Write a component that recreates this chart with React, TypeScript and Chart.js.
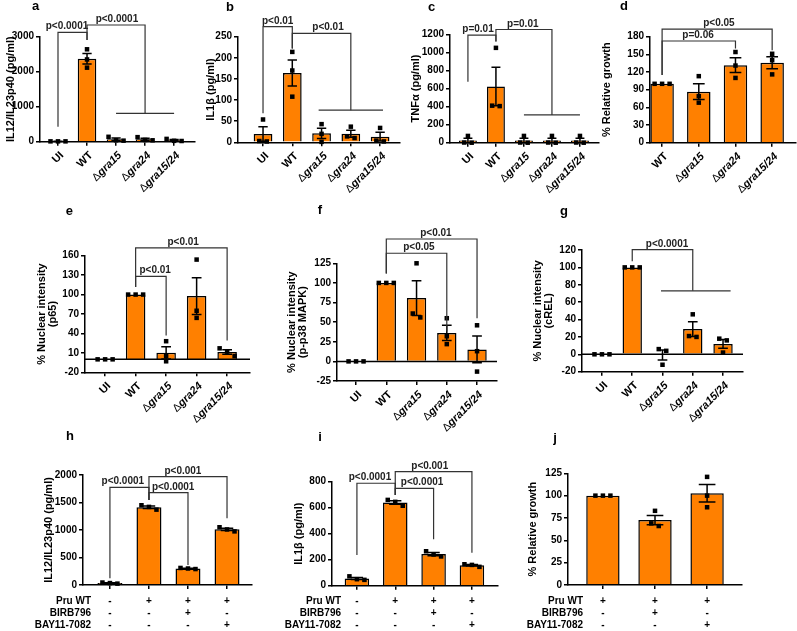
import React, { useEffect, useRef } from 'react';
import { Chart, registerables } from 'chart.js';

Chart.register(...registerables);

const FONT = "'Liberation Sans', Arial, Helvetica, sans-serif";
Chart.defaults.font.family = FONT;
const ORANGE = '#ff8000';
const PAGE_W = 797;
const PAGE_H = 631;

// ---------------- categories & row labels ----------------
const mutantCats = ['UI', 'WT', 'Δgra15', 'Δgra24', 'Δgra15/24'];
const growthCats = ['WT', 'Δgra15', 'Δgra24', 'Δgra15/24'];
const inhibCats = ['Uninfected', 'Pru WT', 'Pru WT + BIRB796', 'Pru WT + BAY11-7082'];
const growthInhibCats = ['Pru WT', 'Pru WT + BIRB796', 'Pru WT + BAY11-7082'];
const rowLabels = ['Pru WT', 'BIRB796', 'BAY11-7082'];
const inhibSigns = [['-', '+', '+', '+'], ['-', '-', '+', '-'], ['-', '-', '-', '+']];
const growthInhibSigns = [['+', '+', '+'], ['-', '+', '-'], ['-', '-', '+']];

// ---------------- panel a : IL12/IL23p40 ----------------
const aMeans = [10, 2370, 70, 73, 42];
const aSem = [3, 150, 35, 28, 19];
const aPoints = [[10, 10, 10], [2640, 2350, 2115], [140, 40, 30], [130, 50, 40], [80, 25, 20]];
const aTicks = [0, 1000, 2000, 3000];
const aBrackets = [
  { x1: 0, x2: 1, y: 3126, leg1: 430, leg2: 2905, text: 'p<0.0001', tx: 0.31 },
  { x1: 1, x2: 3, y: 3334, leg1: 2905, leg2: 810, text: 'p<0.0001', tx: 2.03 },
];
const aGroupLines = [{ from: 2, to: 4, y: 810 }];

// ---------------- panel b : IL1b ----------------
const bMeans = [19.7, 164, 21.3, 20.3, 13.3];
const bSem = [17, 31, 12.2, 8.4, 10.3];
const bPoints = [[54, 3, 2], [214, 170, 108], [43, 20, 1], [37, 14, 10], [34, 4, 2]];
const bTicks = [0, 50, 100, 150, 200, 250];
const bBrackets = [
  { x1: 0, x2: 1, y: 274, leg1: 69, leg2: 222, text: 'p<0.01', tx: 0.5 },
  { x1: 1, x2: 3, y: 258, leg1: 222, leg2: 76, text: 'p<0.01', tx: 2.22 },
];
const bGroupLines = [{ from: 1.9, to: 4.1, y: 76 }];

// ---------------- panel c : TNFa ----------------
const cMeans = [25, 622, 25, 25, 25];
const cSem = [25, 214, 25, 25, 25];
const cPoints = [[75, 2, 0], [1050, 410, 405], [75, 2, 0], [75, 2, 0], [75, 2, 0]];
const cTicks = [0, 200, 400, 600, 800, 1000, 1200];
const cBrackets = [
  { x1: 0, x2: 1, y: 1190, leg1: 676, leg2: 1119, text: 'p=0.01', tx: 0.36 },
  { x1: 1, x2: 3, y: 1253, leg1: 1119, leg2: 307, text: 'p=0.01', tx: 1.96 },
];
const cGroupLines = [{ from: 2, to: 4, y: 307 }];

// ---------------- panel d : relative growth ----------------
const dMeans = [100, 86.7, 131.7, 135.7];
const dSem = [0, 13.5, 12.6, 10.3];
const dPoints = [[100, 100, 100], [113, 79, 68], [154, 131, 110], [151, 140, 116]];
const dTicks = [0, 30, 60, 90, 120, 150, 180];
const dBrackets = [
  { x1: 0, x2: 2, y: 172.7, leg1: 115, leg2: 160, text: 'p=0.06', tx: 0.98 },
  { x1: 0, x2: 3, y: 193, leg1: 115, leg2: 157, text: 'p<0.05', tx: 1.55 },
];

// ---------------- panel e : p65 ----------------
const eMeans = [0, 100, 10, 97.7, 11.3];
const eSem = [0, 0, 9.3, 28.3, 3.5];
const ePoints = [[0, 0, 0], [100, 100, 100], [28, 5, -3], [154, 75, 64], [17, 12, 5]];
const eTicks = [-20, 10, 40, 70, 100, 130, 160];
const eBrackets = [
  { x1: 1, x2: 2, y: 128, leg1: 111.6, leg2: 37, text: 'p<0.01', tx: 1.64 },
  { x1: 1, x2: 4, y: 172, leg1: 111.6, leg2: 29, text: 'p<0.01', tx: 2.56 },
];

// ---------------- panel f : p-p38 MAPK ----------------
const fMeans = [0, 100, 80.7, 36.3, 15.3];
const fSem = [0, 0, 22.2, 9.8, 17];
const fPoints = [[0, 0, 0], [100, 100, 100], [125, 56, 61], [55, 32, 22], [46, 13, -13]];
const fTicks = [-25, 0, 25, 50, 75, 100, 125];
const fBrackets = [
  { x1: 1, x2: 3, y: 137.8, leg1: 112, leg2: 38, text: 'p<0.05', tx: 2.08 },
  { x1: 1, x2: 4, y: 156, leg1: 112, leg2: 55, text: 'p<0.01', tx: 2.64 },
];

// ---------------- panel g : cREL ----------------
const gMeans = [0, 100, -0.7, 29, 12];
const gSem = [0, 0, 5.7, 8.5, 5];
const gPoints = [[0, 0, 0], [100, 100, 100], [6, 4, -12], [46, 20, 21], [18, 16, 2]];
const gTicks = [-20, 0, 20, 40, 60, 80, 100, 120];
const gBrackets = [
  { x1: 1, x2: 3, y: 120.5, leg1: 107, leg2: 73, text: 'p<0.0001', tx: 2.15 },
];
const gGroupLines = [{ from: 1.95, to: 4.25, y: 73 }];

// ---------------- panel h : IL12/IL23p40 inhibitors ----------------
const hMeans = [35, 1413, 300, 1012];
const hSem = [6, 23, 6, 22];
const hPoints = [[45, 35, 25], [1450, 1420, 1370], [310, 300, 290], [1050, 1010, 975]];
const hTicks = [0, 500, 1000, 1500, 2000];
const hBrackets = [
  { x1: 0, x2: 1, y: 1776, leg1: 121, leg2: 1545, text: 'p<0.0001', tx: 0.33 },
  { x1: 1, x2: 2, y: 1678, leg1: 1545, leg2: 363, text: 'p<0.0001', tx: 1.62 },
  { x1: 1, x2: 3, y: 1969, leg1: 1545, leg2: 1212, text: 'p<0.001', tx: 1.87 },
];

// ---------------- panel i : IL1b inhibitors ----------------
const iMeans = [56, 640, 243, 157];
const iSem = [8, 13, 12, 6];
const iPoints = [[72, 50, 45], [660, 645, 615], [265, 240, 225], [165, 160, 145]];
const iTicks = [0, 200, 400, 600, 800];
const iBrackets = [
  { x1: 0, x2: 1, y: 788, leg1: 236, leg2: 698, text: 'p<0.0001', tx: 0.34 },
  { x1: 1, x2: 2, y: 749, leg1: 698, leg2: 357, text: 'p<0.0001', tx: 1.7 },
  { x1: 1, x2: 3, y: 877, leg1: 698, leg2: 254, text: 'p<0.001', tx: 1.9 },
];

// ---------------- panel j : relative growth inhibitors ----------------
const jMeans = [100, 72.7, 102.7];
const jSem = [0, 5.2, 9.9];
const jPoints = [[100, 100, 100], [83, 69, 66], [121, 100, 87]];
const jTicks = [0, 25, 50, 75, 100, 125];

// ---------------- layout (pixel geometry of each panel) ----------------
const LAYOUT: any = {
  a: { l: 40, r: 195, t: 36.7, b: 141.7, xMin: -0.62, xMax: 4.72, titleX: 10.5, letter: [35.7, 6.7] },
  b: { l: 238, r: 400, t: 36.7, b: 142.3, xMin: -0.855, xMax: 4.68, titleX: 211, letter: [230, 7.3] },
  c: { l: 450, r: 599, t: 34.3, b: 142.7, xMin: -0.64, xMax: 4.68, titleX: 416, letter: [431.7, 7.3] },
  d: { l: 650, r: 796, t: 36.7, b: 142.7, xMin: -0.33, xMax: 3.65, titleX: 606.5, letter: [624, 6.7] },
  e: { l: 85, r: 250, t: 255.7, b: 372.3, xMin: -0.66, xMax: 4.75, titleX: 41.7, letter: [69.3, 211] },
  f: { l: 337, r: 497, t: 263.3, b: 381, xMin: -0.63, xMax: 4.66, titleX: 292, letter: [320, 210] },
  g: { l: 582, r: 743, t: 250, b: 371.7, xMin: -0.66, xMax: 4.66, titleX: 538, letter: [564, 211.7] },
  h: { l: 83, r: 252, t: 475, b: 585, xMin: -0.69, xMax: 3.64, titleX: 49, letter: [70, 436.7], rowRight: 91 },
  i: { l: 332, r: 498, t: 481.7, b: 585.7, xMin: -0.65, xMax: 3.68, titleX: 298.5, letter: [320, 437.7], rowRight: 341 },
  j: { l: 568, r: 742, t: 473.3, b: 585, xMin: -0.67, xMax: 2.67, titleX: 533, letter: [555, 438.3], rowRight: 583 },
};
const ROW_OFFSETS = [16, 28, 40];

const PANELS: any[] = [
  { id: 'a', cats: mutantCats, means: aMeans, sems: aSem, points: aPoints, yTicks: aTicks, title: 'IL12/IL23p40 (pg/ml)', brackets: aBrackets, groupLines: aGroupLines },
  { id: 'b', cats: mutantCats, means: bMeans, sems: bSem, points: bPoints, yTicks: bTicks, title: 'IL1β (pg/ml)', brackets: bBrackets, groupLines: bGroupLines },
  { id: 'c', cats: mutantCats, means: cMeans, sems: cSem, points: cPoints, yTicks: cTicks, title: 'TNFα (pg/ml)', brackets: cBrackets, groupLines: cGroupLines },
  { id: 'd', cats: growthCats, means: dMeans, sems: dSem, points: dPoints, yTicks: dTicks, title: '% Relative growth', brackets: dBrackets, groupLines: [] },
  { id: 'e', cats: mutantCats, means: eMeans, sems: eSem, points: ePoints, yTicks: eTicks, title: ['% Nuclear intensity', '(p65)'], brackets: eBrackets, groupLines: [], zeroLine: true },
  { id: 'f', cats: mutantCats, means: fMeans, sems: fSem, points: fPoints, yTicks: fTicks, title: ['% Nuclear intensity', '(p-p38 MAPK)'], brackets: fBrackets, groupLines: [], zeroLine: true },
  { id: 'g', cats: mutantCats, means: gMeans, sems: gSem, points: gPoints, yTicks: gTicks, title: ['% Nuclear intensity', '(cREL)'], brackets: gBrackets, groupLines: gGroupLines, zeroLine: true },
  { id: 'h', cats: inhibCats, means: hMeans, sems: hSem, points: hPoints, yTicks: hTicks, title: 'IL12/IL23p40 (pg/ml)', brackets: hBrackets, groupLines: [], rows: inhibSigns },
  { id: 'i', cats: inhibCats, means: iMeans, sems: iSem, points: iPoints, yTicks: iTicks, title: 'IL1β (pg/ml)', brackets: iBrackets, groupLines: [], rows: inhibSigns },
  { id: 'j', cats: growthInhibCats, means: jMeans, sems: jSem, points: jPoints, yTicks: jTicks, title: '% Relative growth', brackets: [], groupLines: [], rows: growthInhibSigns },
];

const BAR_PCT = 0.64;

function jitter(vals: number[], toPx: (v: number) => number, step: number): number[] {
  const idx = vals.map((v, k) => ({ k, py: toPx(v) })).sort((a, b) => a.py - b.py);
  const offs = new Array(vals.length).fill(0);
  if (!idx.length) return offs;
  let cluster = [idx[0]];
  const flush = () => {
    const n = cluster.length;
    cluster.forEach((c, j) => { offs[c.k] = (j - (n - 1) / 2) * step; });
  };
  for (let j = 1; j < idx.length; j++) {
    if (idx[j].py - idx[j - 1].py < 5) cluster.push(idx[j]);
    else { flush(); cluster = [idx[j]]; }
  }
  flush();
  return offs;
}

function makeDecor(p: any) {
  const L = LAYOUT[p.id];
  return {
    id: 'decor_' + p.id,
    afterDatasetsDraw(chart: any) {
      const ctx = chart.ctx;
      const xs = chart.scales.x;
      const ys = chart.scales.y;
      const X = (v: number) => xs.getPixelForValue(v);
      const Y = (v: number) => ys.getPixelForValue(v);
      const unit = X(1) - X(0);
      const barW = unit * BAR_PCT;
      const area = chart.chartArea;
      ctx.save();
      if (p.zeroLine) {
        ctx.strokeStyle = '#000';
        ctx.lineWidth = 1.5;
        ctx.beginPath();
        ctx.moveTo(area.left, Y(0));
        ctx.lineTo(area.right, Y(0));
        ctx.stroke();
      }
      // error bars
      ctx.strokeStyle = '#000';
      ctx.lineWidth = 1.5;
      p.means.forEach((m: number, i: number) => {
        const s = p.sems[i];
        if (!s) return;
        const x = X(i);
        const cap = barW * 0.25;
        const yt = Y(m + s);
        const yb = Y(m - s);
        ctx.beginPath();
        ctx.moveTo(x, yb); ctx.lineTo(x, yt);
        ctx.moveTo(x - cap, yt); ctx.lineTo(x + cap, yt);
        ctx.moveTo(x - cap, yb); ctx.lineTo(x + cap, yb);
        ctx.stroke();
      });
      // individual points
      ctx.fillStyle = '#000';
      p.points.forEach((vals: number[], i: number) => {
        const offs = jitter(vals, Y, 7.5);
        vals.forEach((v, k) => {
          const px = X(i) + offs[k];
          const py = Y(v);
          ctx.fillRect(px - 2.25, py - 2.25, 4.5, 4.5);
        });
      });
      // significance brackets
      ctx.strokeStyle = '#333';
      ctx.lineWidth = 1.2;
      p.groupLines.forEach((g: any) => {
        ctx.beginPath();
        ctx.moveTo(X(g.from), Y(g.y));
        ctx.lineTo(X(g.to), Y(g.y));
        ctx.stroke();
      });
      p.brackets.forEach((b: any) => {
        const x1 = X(b.x1);
        const x2 = X(b.x2);
        const y = Y(b.y);
        ctx.strokeStyle = '#333';
        ctx.beginPath();
        ctx.moveTo(x1, Y(b.leg1));
        ctx.lineTo(x1, y);
        ctx.lineTo(x2, y);
        ctx.lineTo(x2, Y(b.leg2));
        ctx.stroke();
        ctx.fillStyle = '#222';
        ctx.font = `bold 10px ${FONT}`;
        ctx.textAlign = 'center';
        ctx.textBaseline = 'alphabetic';
        ctx.fillText(b.text, X(b.tx), y - 3);
      });
      ctx.restore();
    },
    afterDraw(chart: any) {
      const ctx = chart.ctx;
      const xs = chart.scales.x;
      const X = (v: number) => xs.getPixelForValue(v);
      const bottom = chart.chartArea.bottom;
      ctx.save();
      ctx.fillStyle = '#000';
      if (p.rows) {
        ctx.font = `bold 10px ${FONT}`;
        ctx.textBaseline = 'middle';
        p.rows.forEach((signs: string[], r: number) => {
          const y = bottom + ROW_OFFSETS[r];
          ctx.textAlign = 'right';
          ctx.fillText(rowLabels[r], L.rowRight, y);
          ctx.textAlign = 'center';
          signs.forEach((s, i) => ctx.fillText(s, X(i), y));
        });
      } else {
        p.cats.forEach((c: string, i: number) => {
          ctx.save();
          ctx.translate(X(i) + 4, bottom + 12);
          ctx.rotate(-Math.PI / 4);
          const parts: any[] = c.startsWith('Δ')
            ? [{ t: 'Δ', f: `11px ${FONT}` }, { t: c.slice(1), f: `italic bold 11px ${FONT}` }]
            : [{ t: c, f: `bold 11px ${FONT}` }];
          let total = 0;
          parts.forEach((pt) => { ctx.font = pt.f; pt.w = ctx.measureText(pt.t).width; total += pt.w; });
          let cx = -total;
          ctx.textAlign = 'left';
          ctx.textBaseline = 'middle';
          parts.forEach((pt) => { ctx.font = pt.f; ctx.fillText(pt.t, cx, 0); cx += pt.w; });
          ctx.restore();
        });
      }
      ctx.font = `bold 13px ${FONT}`;
      ctx.textAlign = 'center';
      ctx.textBaseline = 'middle';
      ctx.fillText(p.id, L.letter[0], L.letter[1]);
      ctx.restore();
    },
  };
}

function buildConfig(p: any): any {
  const L = LAYOUT[p.id];
  const scaleLeft = L.titleX - 5.5;
  const yW = L.l - scaleLeft;
  const xH = 20;
  const axisGrid = { display: true, offset: false, drawOnChartArea: false, drawTicks: true, tickLength: 4, color: '#000', lineWidth: 1.5 };
  const axisBorder = { display: true, color: '#000', width: 1.5, z: 1 };
  return {
    type: 'bar',
    data: {
      datasets: [{
        data: p.means.map((m: number, i: number) => ({ x: i, y: m })),
        backgroundColor: ORANGE,
        borderColor: '#000',
        borderWidth: 1.5,
        barPercentage: BAR_PCT,
        categoryPercentage: 1,
      }],
    },
    options: {
      animation: false,
      responsive: false,
      events: [],
      layout: { padding: { left: scaleLeft, top: L.t, right: PAGE_W - L.r, bottom: PAGE_H - L.b - xH } },
      plugins: { legend: { display: false }, tooltip: { enabled: false } },
      scales: {
        x: {
          type: 'linear', position: 'bottom', min: L.xMin, max: L.xMax, bounds: 'data', offset: false,
          afterBuildTicks: (s: any) => { s.ticks = p.cats.map((_: any, i: number) => ({ value: i })); },
          afterFit: (s: any) => { s.height = xH; },
          ticks: { display: false },
          grid: axisGrid,
          border: axisBorder,
        },
        y: {
          type: 'linear', position: 'left', min: p.yTicks[0], max: p.yTicks[p.yTicks.length - 1],
          afterBuildTicks: (s: any) => { s.ticks = p.yTicks.map((v: number) => ({ value: v })); },
          afterFit: (s: any) => { s.width = yW; },
          ticks: { callback: (v: any) => String(v), font: { size: 10, weight: 'bold' }, color: '#000', padding: 2, autoSkip: false },
          grid: axisGrid,
          border: axisBorder,
          title: { display: true, text: p.title, font: { size: 11, weight: 'bold', lineHeight: 1 }, color: '#000', padding: 0 },
        },
      },
    },
    plugins: [makeDecor(p)],
  };
}

function PanelChart({ panel }: { panel: any }) {
  const ref = useRef<HTMLCanvasElement>(null);
  useEffect(() => {
    const chart = new Chart(ref.current as HTMLCanvasElement, buildConfig(panel));
    return () => chart.destroy();
  }, [panel]);
  return (
    <canvas
      ref={ref}
      width={PAGE_W}
      height={PAGE_H}
      style={{ position: 'absolute', left: 0, top: 0, width: PAGE_W, height: PAGE_H }}
    />
  );
}

export default function App() {
  return (
    <div style={{ position: 'absolute', left: 0, top: 0, width: PAGE_W, height: PAGE_H, background: '#fff', overflow: 'hidden' }}>
      {PANELS.map((p) => (
        <PanelChart key={p.id} panel={p} />
      ))}
    </div>
  );
}
